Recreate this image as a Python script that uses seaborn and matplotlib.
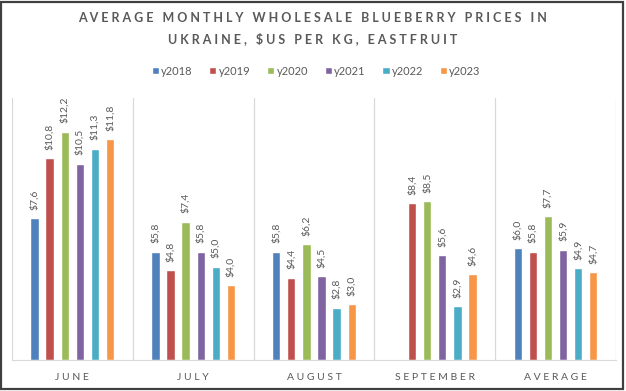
import seaborn as sns
import pandas as pd
import matplotlib.pyplot as plt
import numpy as np
from matplotlib.patches import Rectangle

# data ($US per kg)
months = ["JUNE", "JULY", "AUGUST", "SEPTEMBER", "AVERAGE"]
years = ["y2018", "y2019", "y2020", "y2021", "y2022", "y2023"]
y2018 = [7.6, 5.8, 5.8, np.nan, 6.0]
y2019 = [10.8, 4.8, 4.4, 8.4, 5.8]
y2020 = [12.2, 7.4, 6.2, 8.5, 7.7]
y2021 = [10.5, 5.8, 4.5, 5.6, 5.9]
y2022 = [11.3, 5.0, 2.8, 2.9, 4.9]
y2023 = [11.8, 4.0, 3.0, 4.6, 4.7]

colors = ["#4F81BD", "#C0504D", "#9BBB59", "#8064A2", "#4BACC6", "#F79646"]
grey = "#595959"


def spaced(s):
    """fake letter spacing the way the original title looks"""
    return "   ".join(" ".join(w) for w in s.split(" "))


series = [y2018, y2019, y2020, y2021, y2022, y2023]
rows = []
for year, vals in zip(years, series):
    for m, v in zip(months, vals):
        rows.append({"month": m, "year": year, "price": v})
df = pd.DataFrame(rows)

sns.set_style("white")
plt.rcParams["font.family"] = ["Lato", "DejaVu Sans"]

fig = plt.figure(figsize=(6.26, 3.91), dpi=100)
ax = fig.add_axes([0.019, 0.079, 0.965, 0.67])

sns.barplot(data=df, x="month", y="price", hue="year", order=months,
            hue_order=years, palette=colors, width=0.75, gap=0.45,
            saturation=1, ax=ax, legend=True)

# value labels, rotated like the original
for cont in ax.containers:
    ax.bar_label(cont, fmt=lambda v: f"${v:.1f}".replace(".", ","),
                 rotation=90, padding=6, color=grey, fontsize=7.5)

ax.set_ylim(0, 14)
ax.set_xlim(-0.5, len(months) - 0.5)
ax.set_yticks([])
ax.set_xlabel("")
ax.set_ylabel("")
ax.set_xticks(range(len(months)))
ax.set_xticklabels([spaced(m) for m in months], color=grey, fontsize=7.5)
ax.tick_params(axis="x", length=0, pad=9)
for s in ["top", "right", "left"]:
    ax.spines[s].set_visible(False)
ax.spines["bottom"].set_color("#D9D9D9")

# separators between months
for x in np.arange(-0.5, len(months), 1.0):
    ax.axvline(x, color="#D9D9D9", lw=0.9, zorder=0)

ax.legend(loc="center", bbox_to_anchor=(0.505, 0.818), bbox_transform=fig.transFigure,
          ncol=6, frameon=False, fontsize=8, handlelength=0.65, handleheight=0.65,
          handletextpad=0.2, columnspacing=1.5, labelcolor=grey)

fig.text(0.5, 0.953, spaced("AVERAGE MONTHLY WHOLESALE BLUEBERRY PRICES IN"),
         ha="center", va="center", fontsize=9, fontweight="bold", color=grey)
fig.text(0.5, 0.902, spaced("UKRAINE, $US PER KG, EASTFRUIT"),
         ha="center", va="center", fontsize=9, fontweight="bold", color=grey)

# dark frame around the picture
fig.patches.append(Rectangle((0.002, 0.004), 0.994, 0.992, transform=fig.transFigure,
                             fill=False, edgecolor="#404040", lw=1.6))

plt.savefig("out.png", dpi=100)
plt.close()
